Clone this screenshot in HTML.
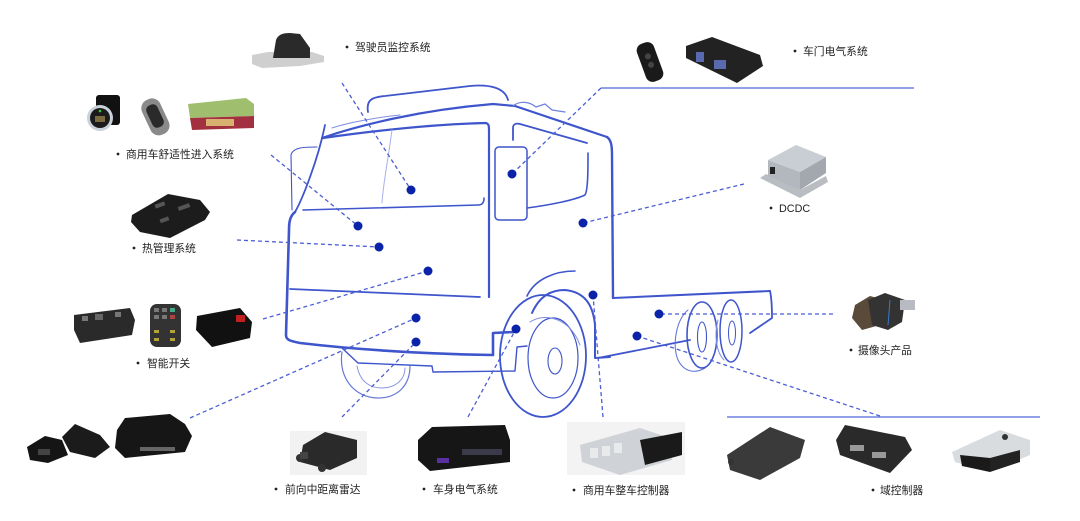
<!DOCTYPE html>
<html><head><meta charset="utf-8">
<style>
html,body{margin:0;padding:0;background:#fff;}
svg{display:block;}
text{font-family:"Liberation Sans","Noto Sans CJK SC",sans-serif;font-size:10.8px;fill:#222;}
</style></head>
<body>
<svg width="1080" height="521" viewBox="0 0 1080 521" xmlns="http://www.w3.org/2000/svg">
<rect width="1080" height="521" fill="#fff"/>

<!-- Truck outline -->
<g fill="none" stroke="#3f55cc" stroke-linecap="round" stroke-linejoin="round">
  <!-- visor -->
  <path d="M368,112 C366,100 372,97 385,96 L470,86 C490,84 505,88 508,100" stroke-width="1.8"/>
  <!-- roof -->
  <path d="M322,138 C360,125 420,110 493,104 L515,106 L607,137" stroke-width="2.2"/>
  <path d="M332,128 C350,122 380,117 400,115" stroke-width="1" stroke="#7f8ee0"/>
  <path d="M513,106 C520,100 530,102 536,107 L545,104 L552,110 L565,112" stroke-width="1.2" stroke="#6f80dd"/>
  <!-- rear cab edge -->
  <path d="M607,137 C611,140 612,145 612,155 L613,298" stroke-width="2.4"/>
  <!-- chassis -->
  <path d="M613,298 L770,291" stroke-width="2"/>
  <path d="M770,291 C772,300 772,310 772,318 L750,333" stroke-width="1.8"/>
  <path d="M598,358 L690,340" stroke-width="1.8"/>
  <!-- windshield top & door front edge -->
  <path d="M323,138 C380,130 440,124 486,123 C489,124 489,126 489,131 L489,297" stroke-width="2.2"/>
  <!-- windshield bottom -->
  <path d="M303,210 L478,205 C482,205 484,203 484,198" stroke-width="1.6"/>
  <!-- A-pillar -->
  <path d="M325,125 C318,160 302,200 295,212" stroke-width="1.8"/>
  <path d="M317,147 C305,147 293,147 291,155 L292,210" stroke-width="1.1"/>
  <!-- cab front / bottom -->
  <path d="M295,212 C290,216 289,222 289,230 L286,335 C286,340 290,341 300,343 C360,350 430,354 493,355 L493,333 L513,332" stroke-width="2.6"/>
  <!-- windshield divider -->
  <path d="M392,130 C388,160 383,185 382,203" stroke-width="1" stroke="#a8b2ea"/>
  <!-- door window -->
  <path d="M513,140 L513,128 C513,124 516,123 520,124 L587,143" stroke-width="1.8"/>
  <path d="M527,208 C550,205 575,200 585,195 C588,190 588,170 588,153" stroke-width="1.6"/>
  <!-- mirror -->
  <rect x="495" y="147" width="32" height="73" rx="4" stroke-width="1.5"/>
  <!-- bumper line -->
  <path d="M290,289 C350,292 420,294 480,297" stroke-width="1.8"/>
  <!-- under bumper -->
  <path d="M342,348 L358,363 L432,366 L433,372 L515,371 L517,347 L527,346" stroke-width="1.4"/>
  <!-- front-left wheel -->
  <path d="M342,352 C338,378 355,398 378,398 C398,398 410,385 410,366" stroke-width="1.2" stroke="#6677d8"/>
  <path d="M357,366 C360,382 370,388 382,388 C395,388 405,380 405,368" stroke-width="1" stroke="#8a97e0"/>
  <!-- front wheel -->
  <ellipse cx="543" cy="356" rx="43" ry="61" stroke-width="1.8"/>
  <ellipse cx="553" cy="358" rx="25" ry="40" stroke-width="1.2"/>
  <path d="M530,322 C545,312 570,318 580,345" stroke-width="1" stroke="#7f8ee0"/>
  <ellipse cx="555" cy="361" rx="7" ry="13" stroke-width="1.1"/>
  <!-- fender -->
  <path d="M527,296 C535,279 555,271 575,271" stroke-width="1.6"/>
  <path d="M532,313 C540,295 552,290 565,290 C585,292 593,305 595,325 L595,358 L610,357" stroke-width="2"/>
  <!-- rear wheels -->
  <path d="M688,310 C676,320 672,345 678,360 C684,372 695,374 705,368" stroke-width="1.1" stroke="#6677d8"/>
  <ellipse cx="702" cy="335" rx="15" ry="33" stroke-width="1.6"/>
  <ellipse cx="702" cy="337" rx="4.5" ry="15" stroke-width="1.1"/>
  <path d="M718,320 C714,335 716,352 724,360" stroke-width="1" stroke="#7f8ee0"/>
  <ellipse cx="731" cy="331" rx="11" ry="31" stroke-width="1.5"/>
  <ellipse cx="732" cy="333" rx="3.5" ry="12" stroke-width="1"/>
</g>

<!-- solid guide lines -->
<line x1="601" y1="88" x2="914" y2="88" stroke="#6f80e0" stroke-width="1.6"/>
<line x1="727" y1="417" x2="1040" y2="417" stroke="#6f80e0" stroke-width="1.6"/>

<!-- dashed connectors -->
<g stroke="#4a5fd4" stroke-width="1.3" stroke-dasharray="4 3" fill="none">
  <line x1="342" y1="83" x2="411" y2="190"/>
  <line x1="271" y1="155" x2="358" y2="226"/>
  <line x1="237" y1="240" x2="379" y2="247"/>
  <line x1="263" y1="319" x2="428" y2="271"/>
  <line x1="190" y1="418" x2="416" y2="318"/>
  <line x1="342" y1="417" x2="416" y2="342"/>
  <line x1="468" y1="417" x2="516" y2="329"/>
  <line x1="603" y1="417" x2="593" y2="295"/>
  <line x1="880" y1="416" x2="637" y2="336"/>
  <line x1="833" y1="314" x2="659" y2="314"/>
  <line x1="744" y1="184" x2="583" y2="223"/>
  <line x1="601" y1="88" x2="512" y2="174"/>
</g>

<!-- dots -->
<g fill="#0b23a8">
  <circle cx="411" cy="190" r="4.5"/>
  <circle cx="358" cy="226" r="4.5"/>
  <circle cx="379" cy="247" r="4.5"/>
  <circle cx="428" cy="271" r="4.5"/>
  <circle cx="416" cy="318" r="4.5"/>
  <circle cx="416" cy="342" r="4.5"/>
  <circle cx="516" cy="329" r="4.5"/>
  <circle cx="593" cy="295" r="4.5"/>
  <circle cx="637" cy="336" r="4.5"/>
  <circle cx="659" cy="314" r="4.5"/>
  <circle cx="583" cy="223" r="4.5"/>
  <circle cx="512" cy="174" r="4.5"/>
</g>

<!-- Products -->
<!-- driver monitor -->
<path d="M252,55 L268,52 L312,52 L324,56 L324,62 L300,66 L262,68 L252,64 Z" fill="#cfcfcf"/>
<path d="M273,58 L276,40 C278,35 282,33 290,33 L300,34 L310,48 L310,58 Z" fill="#2a2a2a"/>
<!-- start button -->
<rect x="96" y="95" width="24" height="30" rx="3" fill="#111"/>
<circle cx="100" cy="118" r="13" fill="#c9d1db"/>
<circle cx="100" cy="118" r="10" fill="#1b1b1b"/>
<circle cx="100" cy="111" r="1.3" fill="#3c3"/>
<rect x="95" y="116" width="10" height="6" fill="#7a6a40"/>
<!-- key fob -->
<g transform="rotate(-25 155 116)">
  <rect x="145" y="98" width="20" height="38" rx="9" fill="#8a8a8a"/>
  <rect x="149" y="104" width="12" height="24" rx="5" fill="#2a2a2a"/>
</g>
<!-- green box -->
<polygon points="188,104 246,98 254,104 254,116 190,118" fill="#9fbf6e"/>
<polygon points="190,118 254,116 254,128 192,130" fill="#a33040"/>
<rect x="206" y="119" width="28" height="7" fill="#d8b070"/>
<!-- thermal -->
<polygon points="132,215 168,194 200,200 210,212 205,220 170,238 140,232 131,222" fill="#1c1c1c"/>
<rect x="155" y="203" width="10" height="4" fill="#555" transform="rotate(-20 160 205)"/>
<rect x="178" y="205" width="12" height="4" fill="#555" transform="rotate(-20 184 207)"/>
<rect x="160" y="218" width="9" height="4" fill="#555" transform="rotate(-20 164 220)"/>
<!-- door key & box -->
<g transform="rotate(-20 650 62)">
  <rect x="641" y="42" width="18" height="40" rx="7" fill="#1a1a1a"/>
  <circle cx="650" cy="56" r="3" fill="#444"/>
  <circle cx="650" cy="65" r="3" fill="#444"/>
</g>
<polygon points="686,46 712,37 760,55 763,66 737,83 686,58" fill="#222"/>
<rect x="696" y="52" width="8" height="10" fill="#5a6ab0"/>
<rect x="714" y="60" width="12" height="9" fill="#5a6ab0"/>
<!-- DCDC -->
<polygon points="760,178 800,198 828,182 826,176 800,190 766,174" fill="#b9bdc2"/>
<polygon points="768,160 796,145 826,157 800,172" fill="#c9ced4"/>
<polygon points="768,160 800,172 800,190 768,176" fill="#b3b8be"/>
<polygon points="800,172 826,157 826,173 800,190" fill="#a3a8ae"/>
<rect x="770" y="167" width="5" height="7" fill="#222"/>
<!-- smart switches -->
<polygon points="74,315 130,308 135,320 132,335 80,343 74,330" fill="#2a2a2a"/>
<rect x="82" y="316" width="6" height="5" fill="#777"/>
<rect x="95" y="314" width="8" height="6" fill="#666"/>
<rect x="115" y="312" width="6" height="5" fill="#777"/>
<rect x="150" y="304" width="31" height="43" rx="7" fill="#333"/>
<g fill="#777"><rect x="154" y="308" width="5" height="4"/><rect x="162" y="308" width="5" height="4"/><rect x="170" y="308" width="5" height="4" fill="#4a8"/><rect x="154" y="315" width="5" height="4"/><rect x="162" y="315" width="5" height="4"/><rect x="170" y="315" width="5" height="4" fill="#a44"/></g>
<g fill="#b5a43c"><rect x="154" y="330" width="5" height="3"/><rect x="170" y="330" width="5" height="3"/><rect x="154" y="338" width="5" height="3"/><rect x="170" y="338" width="5" height="3"/></g>
<polygon points="197,316 240,308 252,322 250,338 212,347 196,330" fill="#111"/>
<rect x="236" y="315" width="9" height="7" fill="#c02020"/>
<!-- bottom-left devices -->
<polygon points="27,447 45,436 62,440 68,455 48,463 30,460" fill="#151515"/>
<polygon points="62,437 75,424 100,435 110,447 95,458 70,452" fill="#1b1b1b"/>
<rect x="38" y="449" width="12" height="6" fill="#444"/>
<polygon points="117,430 125,418 170,414 185,424 192,436 185,452 125,458 115,448" fill="#161616"/>
<rect x="140" y="447" width="35" height="4" fill="#666"/>
<!-- radar -->
<rect x="290" y="431" width="77" height="44" fill="#f2f2f2"/>
<polygon points="303,445 325,432 357,440 357,458 330,470 300,462" fill="#2a2a2a"/>
<circle cx="300" cy="458" r="4" fill="#333"/>
<circle cx="322" cy="468" r="4" fill="#333"/>
<rect x="300" y="452" width="8" height="7" fill="#444"/>
<!-- body electric -->
<polygon points="418,440 432,427 505,425 510,440 510,462 430,471 418,460" fill="#161616"/>
<rect x="437" y="458" width="12" height="5" fill="#5a2fa0"/>
<rect x="462" y="449" width="40" height="6" fill="#3a3a4a"/>
<!-- VCU -->
<rect x="567" y="422" width="118" height="53" fill="#f3f3f3"/>
<polygon points="580,445 640,428 670,438 672,460 620,475 582,462" fill="#cfd2d6"/>
<polygon points="640,440 682,432 682,455 645,465" fill="#1a1a1a"/>
<g fill="#e8eaec"><rect x="590" y="448" width="8" height="10"/><rect x="602" y="446" width="8" height="10"/><rect x="614" y="443" width="8" height="10"/></g>
<!-- camera -->
<polygon points="855,305 870,296 885,300 880,325 862,330 852,318" fill="#5a4a3a"/>
<polygon points="868,300 885,293 905,300 902,322 888,330 872,325" fill="#333"/>
<rect x="900" y="300" width="15" height="10" fill="#b8bcc2"/>
<line x1="890" y1="300" x2="888" y2="325" stroke="#3a7ac8" stroke-width="1"/>
<!-- domain controllers -->
<polygon points="727,455 770,427 805,440 800,458 760,480 730,470" fill="#3a3a3a"/>
<circle cx="731" cy="462" r="3" fill="#333"/>
<polygon points="836,440 845,425 905,437 912,450 890,473 840,455" fill="#2a2a2a"/>
<rect x="850" y="445" width="14" height="6" fill="#999"/>
<rect x="872" y="452" width="14" height="6" fill="#999"/>
<polygon points="952,452 1000,430 1030,440 1030,455 990,472 955,462" fill="#d9dcdf"/>
<polygon points="960,455 990,458 990,472 962,466" fill="#1a1a1a"/>
<polygon points="990,458 1020,450 1020,462 990,472" fill="#222"/>
<circle cx="1005" cy="437" r="3" fill="#333"/>

<!-- Labels -->
<g fill="#222">
  <circle cx="347" cy="47" r="1.4"/>
  <circle cx="118" cy="154" r="1.4"/>
  <circle cx="134" cy="248" r="1.4"/>
  <circle cx="795" cy="51" r="1.4"/>
  <circle cx="771" cy="208" r="1.4"/>
  <circle cx="138" cy="363" r="1.4"/>
  <circle cx="276" cy="489" r="1.4"/>
  <circle cx="424" cy="489" r="1.4"/>
  <circle cx="574" cy="490" r="1.4"/>
  <circle cx="851" cy="350" r="1.4"/>
  <circle cx="873" cy="490" r="1.4"/>
</g>
<text x="355" y="51">驾驶员监控系统</text>
<text x="126" y="158">商用车舒适性进入系统</text>
<text x="142" y="252">热管理系统</text>
<text x="803" y="55">车门电气系统</text>
<text x="779" y="212">DCDC</text>
<text x="147" y="367">智能开关</text>
<text x="285" y="493">前向中距离雷达</text>
<text x="433" y="493">车身电气系统</text>
<text x="583" y="494">商用车整车控制器</text>
<text x="858" y="354">摄像头产品</text>
<text x="880" y="494">域控制器</text>
</svg>
</body></html>
